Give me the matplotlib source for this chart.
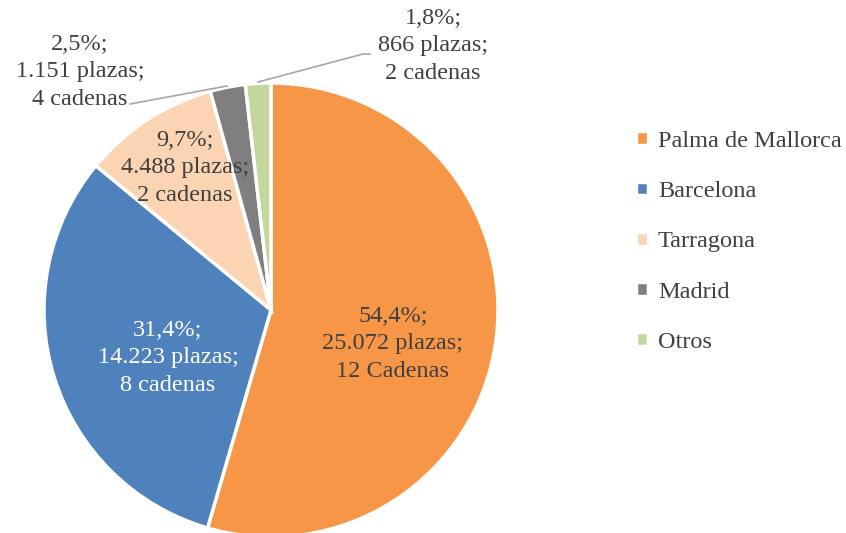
import matplotlib.pyplot as plt

# Data
cities = ['Palma de Mallorca', 'Barcelona', 'Tarragona', 'Madrid', 'Otros']
pct = [54.4, 31.4, 9.7, 2.5, 1.8]
plazas = ['25.072', '14.223', '4.488', '1.151', '866']
cadenas = ['12 Cadenas', '8 cadenas', '2 cadenas', '4 cadenas', '2 cadenas']
colors = ['#F79646', '#4F81BD', '#FBD4B4', '#7F7F7F', '#C3D69B']

plt.rcParams['font.family'] = ['Liberation Serif', 'DejaVu Serif']

W, H = 846, 533
fig = plt.figure(figsize=(W / 100, H / 100), dpi=100)
ax = fig.add_axes([0, 0, 1, 1])

cx, cy, r = 271, H - 310, 227
wedges, _ = ax.pie(pct, colors=colors, startangle=90, counterclock=False,
                   center=(cx, cy), radius=r, frame=True,
                   wedgeprops=dict(edgecolor='white', linewidth=2.5))
ax.set_xlim(0, W)
ax.set_ylim(0, H)
ax.set_aspect('equal')
ax.axis('off')

labels = [f'{p:.1f}%;\n{pl} plazas;\n{c}'.replace('.', ',', 1) for p, pl, c in zip(pct, plazas, cadenas)]

txt = '#404040'
fs = 17.5
ls = 1.42
ax.text(393, H - 344, labels[0], ha='center', va='center', fontsize=fs, color=txt, linespacing=ls)
ax.text(168, H - 358, labels[1], ha='center', va='center', fontsize=fs, color='white', linespacing=ls)
ax.text(185, H - 168, labels[2], ha='center', va='center', fontsize=fs, color=txt, linespacing=ls)
ax.text(80, H - 72, labels[3], ha='center', va='center', fontsize=fs, color=txt, linespacing=ls)
ax.text(433, H - 46, labels[4], ha='center', va='center', fontsize=fs, color=txt, linespacing=ls)

# leader lines
ax.plot([227, 130], [H - 86, H - 104], color='#A6A6A6', lw=1.2)
ax.plot([258, 363, 370], [H - 82, H - 54, H - 54], color='#A6A6A6', lw=1.2)

ax.legend(wedges, cities, loc='upper left', bbox_to_anchor=(636 / W, 1 - 131 / H),
          bbox_transform=fig.transFigure, frameon=False, fontsize=fs,
          handlelength=0.5, handleheight=0.5, handletextpad=0.4, labelspacing=1.2,
          borderpad=0, borderaxespad=0, labelcolor=txt)

fig.savefig('out.png', dpi=100)
